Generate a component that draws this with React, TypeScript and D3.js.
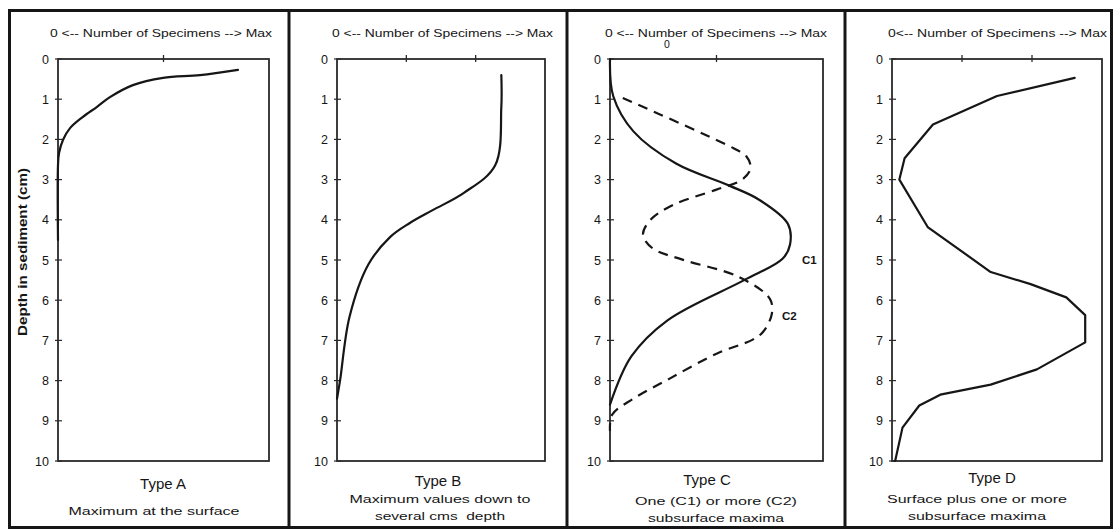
import React from "react";
import * as d3 from "d3";

// ---------- data (value normalised 0..1 = 0..Max, depth in cm) ----------
const depthTicks = [0, 1, 2, 3, 4, 5, 6, 7, 8, 9, 10];

const typeA: [number, number][] = [
  [0.853, 0.27], [0.673, 0.4], [0.498, 0.47], [0.355, 0.65], [0.246, 0.95],
  [0.185, 1.19], [0.118, 1.44], [0.057, 1.72], [0.024, 2.01], [0.005, 2.34],
  [0, 2.64], [0, 4.5],
];

const typeB: [number, number][] = [
  [0.79, 0.4], [0.79, 1.2], [0.76, 2.65], [0.61, 3.33], [0.46, 3.76],
  [0.35, 4.08], [0.255, 4.43], [0.15, 5.12], [0.06, 6.42], [0.015, 7.99], [0, 8.45],
];

const typeC1: [number, number][] = [
  [0, 0], [0.015, 0.92], [0.11, 1.8], [0.31, 2.6], [0.56, 3.15], [0.7, 3.5],
  [0.835, 4.1], [0.845, 4.62], [0.81, 4.97], [0.63, 5.5], [0.27, 6.5],
  [0.1, 7.4], [0, 8.6],
];

const typeC2: [number, number][] = [
  [0.06, 0.97], [0.58, 2.22], [0.64, 2.42], [0.66, 2.72], [0.62, 3.0],
  [0.5, 3.25], [0.3, 3.62], [0.19, 4.0], [0.155, 4.37], [0.2, 4.71],
  [0.34, 4.99], [0.6, 5.41], [0.75, 5.96], [0.76, 6.33], [0.72, 6.78],
  [0.67, 6.98], [0.5, 7.33], [0.28, 7.95], [0.11, 8.45], [0.01, 8.85], [0, 9.25],
];

const typeD: [number, number][] = [
  [0.87, 0.47], [0.5, 0.92], [0.195, 1.63], [0.06, 2.47], [0.035, 3.0],
  [0.17, 4.18], [0.47, 5.3], [0.66, 5.6], [0.83, 5.93], [0.92, 6.37],
  [0.92, 7.05], [0.69, 7.72], [0.47, 8.1], [0.23, 8.35], [0.13, 8.62],
  [0.05, 9.17], [0.015, 10.0],
];

const axisTitles = [
  "0 <-- Number of Specimens --> Max",
  "0 <-- Number of Specimens --> Max",
  "0 <-- Number of Specimens --> Max",
  "0<-- Number of Specimens --> Max",
];
const typeNames = ["Type A", "Type B", "Type C", "Type D"];
const captions = [
  ["Maximum at the surface"],
  ["Maximum values down to", "several cms\u00a0 depth"],
  ["One (C1) or more (C2)", "subsurface maxima"],
  ["Surface plus one or more", "subsurface maxima"],
];
const xTickSets = [[0.5], [1 / 3, 2 / 3], [0.5], [1 / 3, 2 / 3]];
const yAxisTitle = "Depth in sediment (cm)";

// ---------- layout ----------
const W = 1115;
const H = 531;
const plotTop = 59;
const plotBottom = 461;
const plotLefts = [58, 337, 610, 892];
const plotRights = [269, 545, 823, 1102];
const dividers = [289, 567, 845];
const titleSpans = [[50, 272], [332, 553], [605, 827], [888, 1107]];
const typeCenters = [163, 438, 707, 992];
const typeBaselines = [489, 486, 485, 483];
const captionLayout = [
  [{ y: 515, len: 171 }],
  [{ y: 503, len: 181 }, { y: 520, len: 130 }],
  [{ y: 505, len: 162 }, { y: 522, len: 136 }],
  [{ y: 503, len: 180 }, { y: 520, len: 138 }],
];
const captionCenters = [154, 440, 716, 977];

const FONT = "'Liberation Sans', Arial, sans-serif";
const INK = "#161616";

export default function App() {
  const y = d3.scaleLinear().domain([0, 10]).range([plotTop, plotBottom]);

  const xs = [0, 1, 2, 3].map((i) =>
    d3.scaleLinear().domain([0, 1]).range([plotLefts[i], plotRights[i]])
  );
  const makeLine = (i: number, smooth: boolean) =>
    d3
      .line<[number, number]>()
      .x((p) => xs[i](p[0]))
      .y((p) => y(p[1]))
      .curve(smooth ? d3.curveCatmullRom.alpha(0.5) : d3.curveLinear);

  const series: { panel: number; data: [number, number][]; dashed: boolean; smooth: boolean }[] = [
    { panel: 0, data: typeA, dashed: false, smooth: true },
    { panel: 1, data: typeB, dashed: false, smooth: true },
    { panel: 2, data: typeC1, dashed: false, smooth: true },
    { panel: 2, data: typeC2, dashed: true, smooth: true },
    { panel: 3, data: typeD, dashed: false, smooth: false },
  ];

  return (
    <svg
      width={W}
      height={H}
      style={{ position: "absolute", left: 0, top: 0, display: "block", background: "#fff" }}
      fontFamily={FONT}
    >
      <rect x={0} y={0} width={W} height={H} fill="#fff" />
      <rect x={9.5} y={10.5} width={1102} height={517} fill="none" stroke={INK} strokeWidth={3} />
      {dividers.map((dx) => (
        <line key={dx} x1={dx} x2={dx} y1={10} y2={528} stroke={INK} strokeWidth={3} />
      ))}

      {xs.map((x, i) => (
        <g key={i}>
          <rect
            x={plotLefts[i]}
            y={plotTop}
            width={plotRights[i] - plotLefts[i]}
            height={plotBottom - plotTop}
            fill="none"
            stroke="#2a2a2a"
            strokeWidth={1.8}
          />
          {xTickSets[i].map((t) => (
            <line key={t} x1={x(t)} x2={x(t)} y1={plotTop - 4} y2={plotTop + 3} stroke="#2a2a2a" strokeWidth={1.3} />
          ))}
          {depthTicks.map((d) => (
            <g key={d}>
              <line x1={plotLefts[i] - 3} x2={plotLefts[i] + 4} y1={y(d)} y2={y(d)} stroke="#2a2a2a" strokeWidth={1.2} />
              <text x={plotLefts[i] - 9} y={y(d)} dy="0.36em" textAnchor="end" fontSize={12.5} fill={INK}>
                {d}
              </text>
            </g>
          ))}
          <text
            x={titleSpans[i][0]}
            y={37}
            fontSize={11}
            fill={INK}
            textLength={titleSpans[i][1] - titleSpans[i][0]}
            lengthAdjust="spacingAndGlyphs"
          >
            {axisTitles[i]}
          </text>
          <text x={typeCenters[i]} y={typeBaselines[i]} textAnchor="middle" fontSize={15} fill={INK}>
            {typeNames[i]}
          </text>
          {captions[i].map((c, k) => (
            <text
              key={k}
              x={captionCenters[i] - captionLayout[i][k].len / 2}
              y={captionLayout[i][k].y}
              fontSize={11.5}
              fill={INK}
              textLength={captionLayout[i][k].len}
              lengthAdjust="spacingAndGlyphs"
            >
              {c}
            </text>
          ))}
        </g>
      ))}

      <text x={667} y={48} textAnchor="middle" fontSize={10.5} fill={INK}>
        0
      </text>

      <text
        transform={`translate(27, 252) rotate(-90)`}
        textAnchor="middle"
        fontSize={12}
        fontWeight="bold"
        fill={INK}
        textLength={168}
        lengthAdjust="spacingAndGlyphs"
      >
        {yAxisTitle}
      </text>

      {series.map((s, k) => (
        <path
          key={k}
          d={makeLine(s.panel, s.smooth)(s.data) || ""}
          fill="none"
          stroke={INK}
          strokeWidth={2.2}
          strokeLinejoin="round"
          strokeLinecap={s.dashed ? "butt" : "round"}
          strokeDasharray={s.dashed ? "10 7" : undefined}
        />
      ))}

      <text x={802} y={264} fontSize={11.5} fontWeight="bold" fill={INK}>
        C1
      </text>
      <text x={782} y={320} fontSize={11.5} fontWeight="bold" fill={INK}>
        C2
      </text>
    </svg>
  );
}
